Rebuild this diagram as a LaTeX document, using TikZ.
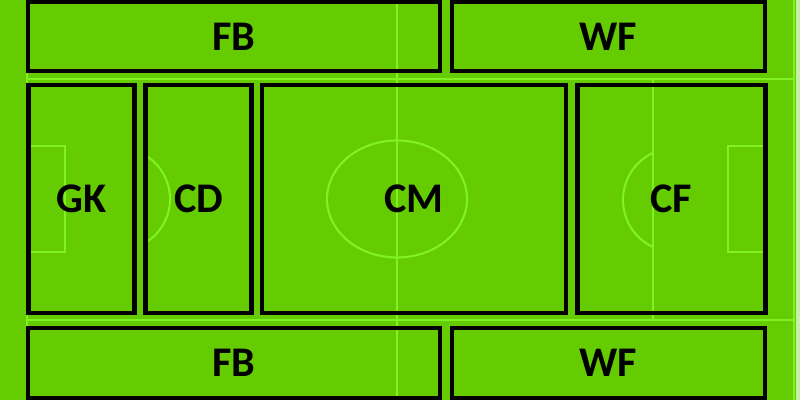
\documentclass[tikz,border=0pt]{standalone}
\usepackage{fontspec}
\setmainfont{Carlito}
\definecolor{grass}{RGB}{100,204,0}
\definecolor{chalk}{RGB}{128,242,34}
\definecolor{paleedge}{RGB}{200,238,170}
\tikzset{
	zone/.style={draw=black, line width=2.9pt},
	pitchline/.style={draw=chalk, line width=1.5pt},
	role/.style={font=\bfseries\fontsize{30}{30}\selectfont, inner sep=0pt}
}
\begin{document}
\begin{tikzpicture}[x=0.025cm, y=-0.025cm]
	\fill[grass] (0, 0) rectangle (800, 400);
	\useasboundingbox (0, 0) rectangle (800, 400);

	% pitch markings
	\draw[pitchline] (27, 79) -- (793, 79);
	\draw[pitchline] (27, 320) -- (793, 320);
	\draw[pitchline] (27, 0) -- (27, 400);
	\draw[pitchline] (794, 0) -- (794, 400);
	\fill[paleedge] (796, 0) rectangle (800, 400);
	\draw[pitchline] (397, 0) -- (397, 400);
	\draw[pitchline] (653, 79) -- (653, 320);
	\draw[pitchline] (397, 199) ellipse (70 and 58.5);
	\draw[pitchline] (27, 146) -- (65, 146) -- (65, 252) -- (27, 252);
	\draw[pitchline] (765, 146) -- (728, 146) -- (728, 252) -- (765, 252);
	\draw[pitchline] (145.3, 155.3) arc (-59:59:51);
	\draw[pitchline] (653, 247.1) arc (115:245:52);

	% top row
	\draw[zone] (28, 2) rectangle (440, 71);
	\node[role] (fbtop) at (234, 36.5) {FB};
	\draw[zone] (452, 2) rectangle (765, 71);
	\node[role] (wftop) at (608.5, 36.5) {WF};

	% middle row
	\draw[zone] (28.5, 85) rectangle (134.5, 313);
	\node[role] (gk) at (81.5, 199) {GK};
	\draw[zone] (145.5, 85) rectangle (251.5, 313);
	\node[role] (cd) at (198.5, 199) {CD};
	\draw[zone] (262, 85) rectangle (566, 313);
	\node[role] (cm) at (414, 199) {CM};
	\draw[zone] (577.5, 85) rectangle (765.5, 313);
	\node[role] (cf) at (671.5, 199) {CF};

	% bottom row
	\draw[zone] (28, 328) rectangle (440, 398);
	\node[role] (fbbottom) at (234, 363) {FB};
	\draw[zone] (452, 328) rectangle (765, 398);
	\node[role] (wfbottom) at (608.5, 363) {WF};
\end{tikzpicture}
\end{document}
